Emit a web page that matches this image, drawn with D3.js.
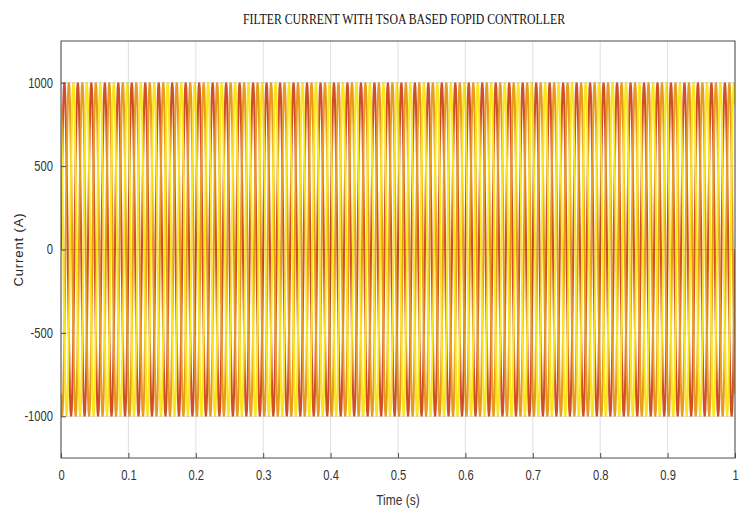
<!DOCTYPE html>
<html>

<head>
    <meta charset="utf-8">
    <title>Filter current</title>
    <style>
        body { margin: 0; background: #fff; }
    </style>
</head>

<body>
    <script src='https://d3js.org/d3.v7.min.js'></script>
    <script>
    // one 20 ms cycle of each phase current (A), sampled every 1/24 of the cycle
    const phaseA = [0, 259, 500, 707, 866, 966, 1000, 966, 866, 707, 500, 259,
                    0, -259, -500, -707, -866, -966, -1000, -966, -866, -707, -500, -259];
    const phaseB = [-866, -966, -1000, -966, -866, -707, -500, -259, 0, 259, 500, 707,
                    866, 966, 1000, 966, 866, 707, 500, 259, 0, -259, -500, -707];
    const phaseC = [866, 707, 500, 259, 0, -259, -500, -707, -866, -966, -1000, -966,
                    -866, -707, -500, -259, 0, 259, 500, 707, 866, 966, 1000, 966];
    const cycleTime = 0.02;   // s
    const cycles = 50;

    const xTicks = [0, 0.1, 0.2, 0.3, 0.4, 0.5, 0.6, 0.7, 0.8, 0.9, 1];
    const yTicks = [-1000, -500, 0, 500, 1000];

    const width = 747;
    const height = 508;
    const pLeft = 61, pRight = 735, pTop = 41, pBottom = 458;

    // repeat a recorded cycle over the whole second
    function tile(cycle) {
        const out = [];
        const n = cycle.length;
        for (let c = 0; c < cycles; c++) {
            for (let i = 0; i < n; i++) {
                out.push({ t: (c + i / n) * cycleTime, v: cycle[i] });
            }
        }
        out.push({ t: cycles * cycleTime, v: cycle[0] });
        return out;
    }

    const svg = d3.select("body")
        .append("svg")
        .attr("width", width)
        .attr("height", height);

    const x = d3.scaleLinear().domain([0, 1]).range([pLeft, pRight]);
    const y = d3.scaleLinear().domain([-1250, 1250]).range([pBottom, pTop]);

    svg.append("defs").append("clipPath").attr("id", "clip")
        .append("rect")
        .attr("x", pLeft).attr("y", pTop)
        .attr("width", pRight - pLeft).attr("height", pBottom - pTop);

    const line = d3.line()
        .x(d => x(d.t))
        .y(d => y(d.v));

    const plot = svg.append("g").attr("clip-path", "url(#clip)");

    const series = [
        { data: tile(phaseA), color: "#cf4f28" },
        { data: tile(phaseB), color: "#e99b1f" },
        { data: tile(phaseC), color: "#fbe51c" }
    ];
    series.forEach(s => {
        plot.append("path")
            .datum(s.data)
            .attr("fill", "none")
            .attr("stroke", s.color)
            .attr("stroke-width", 2.1)
            .attr("d", line);
    });

    // grid on top, faint like matlab
    const grid = svg.append("g")
        .attr("stroke", "#262626")
        .attr("stroke-opacity", 0.15)
        .attr("stroke-width", 1);
    xTicks.forEach(t => {
        grid.append("line")
            .attr("x1", x(t)).attr("x2", x(t))
            .attr("y1", pTop).attr("y2", pBottom);
    });
    yTicks.forEach(t => {
        grid.append("line")
            .attr("x1", pLeft).attr("x2", pRight)
            .attr("y1", y(t)).attr("y2", y(t));
    });

    // box
    svg.append("rect")
        .attr("x", pLeft).attr("y", pTop)
        .attr("width", pRight - pLeft).attr("height", pBottom - pTop)
        .attr("fill", "none")
        .attr("stroke", "#4d4d4d")
        .attr("stroke-width", 1);

    const tickFont = "'Liberation Sans', Arial, sans-serif";
    const squeeze = 0.8;   // the labels in the picture look condensed

    // axes
    const xAxis = svg.append("g")
        .attr("transform", "translate(0," + pBottom + ")")
        .call(d3.axisBottom(x).tickValues(xTicks).tickFormat(d => d === 0 || d === 1 ? d : d3.format(".1f")(d))
            .tickSizeInner(-5).tickSizeOuter(0).tickPadding(12));
    const yAxis = svg.append("g")
        .attr("transform", "translate(" + pLeft + ",0)")
        .call(d3.axisLeft(y).tickValues(yTicks).tickFormat(d => String(d))
            .tickSizeInner(-5).tickSizeOuter(0).tickPadding(8));

    [xAxis, yAxis].forEach(a => {
        a.select(".domain").remove();
        a.selectAll("line").attr("stroke", "#4d4d4d");
        a.selectAll("text")
            .attr("fill", "#333")
            .style("font-family", tickFont)
            .style("font-size", "14px")
            .each(function() {
                const t = d3.select(this);
                const tx = +t.attr("x") || 0;
                t.attr("x", 0).attr("transform", "translate(" + tx + ",0) scale(" + squeeze + ",1)");
            });
    });

    // labels
    svg.append("text")
        .attr("transform", "translate(" + (pLeft + pRight) / 2 + ",505) scale(" + squeeze + ",1)")
        .attr("text-anchor", "middle")
        .attr("fill", "#333")
        .style("font-family", tickFont)
        .style("font-size", "15px")
        .text("Time (s)");

    svg.append("text")
        .attr("transform", "translate(23," + (pTop + pBottom) / 2 + ") rotate(-90)")
        .attr("text-anchor", "middle")
        .attr("fill", "#262626")
        .style("font-family", "'Liberation Sans', Arial, sans-serif")
        .style("font-size", "13px")
        .style("letter-spacing", "0.9px")
        .text("Current (A)");

    svg.append("text")
        .attr("x", 404)
        .attr("y", 24)
        .attr("text-anchor", "middle")
        .attr("fill", "#111")
        .attr("textLength", 322)
        .attr("lengthAdjust", "spacingAndGlyphs")
        .style("font-family", "'Liberation Serif', 'Times New Roman', serif")
        .style("font-size", "15px")
        .text("FILTER CURRENT WITH TSOA BASED FOPID CONTROLLER");
    </script>
</body>

</html>
